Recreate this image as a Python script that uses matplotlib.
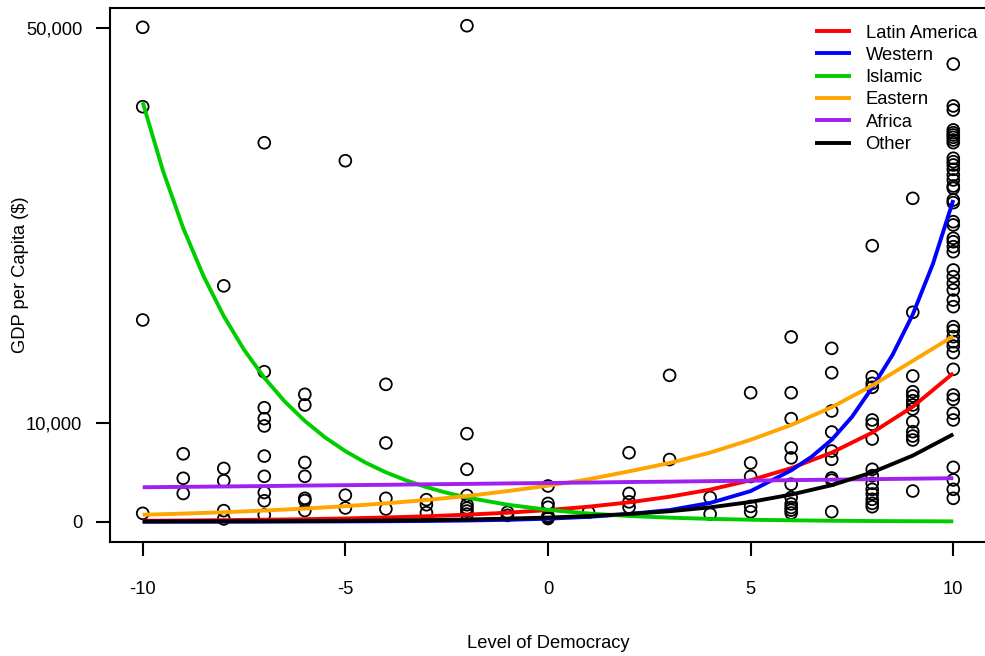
import matplotlib
matplotlib.use("Agg")
import matplotlib.pyplot as plt
from matplotlib.ticker import FuncFormatter

plt.rcParams['font.family'] = ['Liberation Sans', 'DejaVu Sans']

# ---------------- data ----------------
# scatter: (level of democracy, GDP per capita)
democracy = (
    [-10] * 4 + [-9] * 3 + [-8] * 5 + [-7] * 10 + [-6] * 7 + [-5] * 3 + [-4] * 4
    + [-3] * 3 + [-2] * 8 + [-1] * 2 + [0] * 6 + [1] * 1 + [2] * 4 + [3] * 2
    + [4] * 2 + [5] * 5 + [6] * 11 + [7] * 9 + [8] * 15 + [9] * 13 + [10] * 46
)
gdp = [
    50100, 42055, 20440, 850,                                   # -10
    6880, 4400, 2860,                                           # -9
    23900, 5400, 4150, 1120, 280,                               # -8
    38400, 15200, 11550, 10440, 9700, 6650, 4600, 2960, 2120, 680,  # -7
    12910, 11830, 6000, 4600, 2370, 2140, 1130,                 # -6
    36580, 2690, 1390,                                          # -5
    13920, 7980, 2370, 1290,                                    # -4
    2230, 1720, 910,                                            # -3
    50260, 8920, 5310, 2650, 1720, 1380, 1080, 770,             # -2
    950, 640,                                                   # -1
    3620, 1850, 1460, 580, 450, 320,                            # 0
    960,                                                        # 1
    6990, 2860, 2010, 1470,                                     # 2
    14830, 6300,                                                # 3
    2450, 770,                                                  # 4
    13070, 5950, 4580, 1550, 1010,                              # 5
    18720, 13070, 10440, 7470, 6470, 3800, 2450, 1800, 1440, 1170, 880,  # 6
    17570, 15100, 11220, 9090, 7160, 6320, 4430, 4210, 1010,    # 7
    27970, 14690, 14020, 13620, 10310, 9870, 8380, 5310, 4660, 3890,
    3280, 2810, 2270, 1860, 1520,                               # 8
    32770, 21220, 14770, 13170, 12740, 12260, 11830, 11420, 10130, 9120,
    8680, 8280, 3110,                                           # 9
    46380, 42130, 41720, 39700, 39420, 39190, 38950, 38680, 38410, 36830,
    36480, 36150, 35710, 35130, 34630, 34020, 33790, 32600, 32330, 30400,
    30070, 28720, 28370, 27870, 27360, 25510, 24830, 24160, 23480, 22460,
    21790, 19760, 19360, 18750, 18240, 17800, 17130, 15440, 12840, 12400,
    10990, 10310, 5510, 4230, 3280, 2370,                       # 10
]

# fitted curves (integer levels; half levels where steep)
curve_x = list(range(-10, 11))
latin_america = [95, 120, 155, 200, 255, 330, 425, 550, 710, 910, 1180,
                 1520, 1960, 2530, 3250, 4200, 5430, 7000, 9030, 11650, 15050]

western_x = list(range(-10, 7)) + [6.5, 7, 7.5, 8, 8.5, 9, 9.5, 10]
western = [3, 4.5, 7, 11, 18, 29, 47, 75, 120, 190, 305,
           490, 780, 1180, 1900, 3100, 5200,
           6570, 8300, 10620, 13600, 16900, 21000, 26160, 32600]

islamic_x = [-10, -9.5, -9, -8.5, -8, -7.5, -7, -6.5, -6, -5.5, -5, -4.5, -4,
             -3.5, -3, -2.5, -2] + list(range(-1, 11))
islamic = [42500, 35560, 29750, 24890, 20830, 17430, 14580, 12200, 10210, 8540,
           7150, 5980, 5000, 4190, 3500, 2930, 2450,
           1720, 1200, 830, 580, 410, 285, 200, 140, 98, 68, 48, 33]

eastern = [700, 820, 960, 1130, 1330, 1570, 1860, 2200, 2600, 3100, 3650,
           4300, 5100, 5950, 7000, 8300, 9800, 11600, 13800, 16300, 18800]
africa = [3490, 3530, 3570, 3610, 3660, 3700, 3740, 3790, 3830, 3880, 3920,
          3970, 4020, 4060, 4110, 4160, 4210, 4260, 4310, 4360, 4410]
other = [19, 26, 35, 48, 65, 90, 120, 165, 225, 310, 420,
         570, 780, 1060, 1450, 2000, 2750, 3700, 5000, 6700, 8860]

series_names = ["Latin America", "Western", "Islamic", "Eastern", "Africa", "Other"]
series_x = [curve_x, western_x, islamic_x, curve_x, curve_x, curve_x]
series_values = [latin_america, western, islamic, eastern, africa, other]
series_colors = ["#FF0000", "#0000FF", "#00CD00", "#FFA500", "#A020F0", "#000000"]

x_ticks = [-10, -5, 0, 5, 10]
y_ticks = [0, 10000, 50000]

# ---------------- figure ----------------
W, H = 985, 656
fig = plt.figure(figsize=(W / 100, H / 100), dpi=100)
left, right, top, bottom = 110, 986, 8.3, 541.7
ax = fig.add_axes([left / W, 1 - bottom / H, (right - left) / W, (bottom - top) / H])

ax.set_xlim(-10.807, 10.807)
ax.set_ylim(-2027, 52026)

ax.scatter(democracy, gdp, s=72, facecolors='none', edgecolors='black',
           linewidths=1.3, zorder=2)

FS = 13.2
lines = []
for name, xs, vals, col in zip(series_names, series_x, series_values, series_colors):
    ln, = ax.plot(xs, vals, color=col, lw=2.8, label=name, zorder=3,
                  solid_capstyle='butt', solid_joinstyle='round')
    lines.append(ln)

for side in ['top', 'left', 'bottom']:
    ax.spines[side].set_linewidth(1.5)
ax.spines['right'].set_visible(False)

ax.set_xticks(x_ticks)
ax.set_xticklabels([str(t) for t in x_ticks])
ax.set_yticks(y_ticks)
ax.yaxis.set_major_formatter(FuncFormatter(lambda v, p: f"{int(v):,}"))
ax.tick_params(axis='both', length=10, width=1.5, labelsize=FS, color='black')
ax.tick_params(axis='x', pad=18.5)
ax.tick_params(axis='y', pad=10)

ax.set_xlabel("Level of Democracy", fontsize=FS, va='center', ha='center')
ax.xaxis.set_label_coords(0.5, (bottom - 643) / (bottom - top))
ax.set_ylabel("GDP per Capita ($)", fontsize=FS, va='center', ha='center')
ax.yaxis.set_label_coords((20 - left) / (right - left), 0.5)

leg = ax.legend(handles=lines, loc='upper left',
                bbox_to_anchor=(815 / W, 1 - 24.5 / H), bbox_transform=fig.transFigure,
                frameon=False, fontsize=FS, handlelength=1.96, handletextpad=0.80,
                labelspacing=0.29, borderpad=0, borderaxespad=0)

fig.savefig("out.png", dpi=100)
